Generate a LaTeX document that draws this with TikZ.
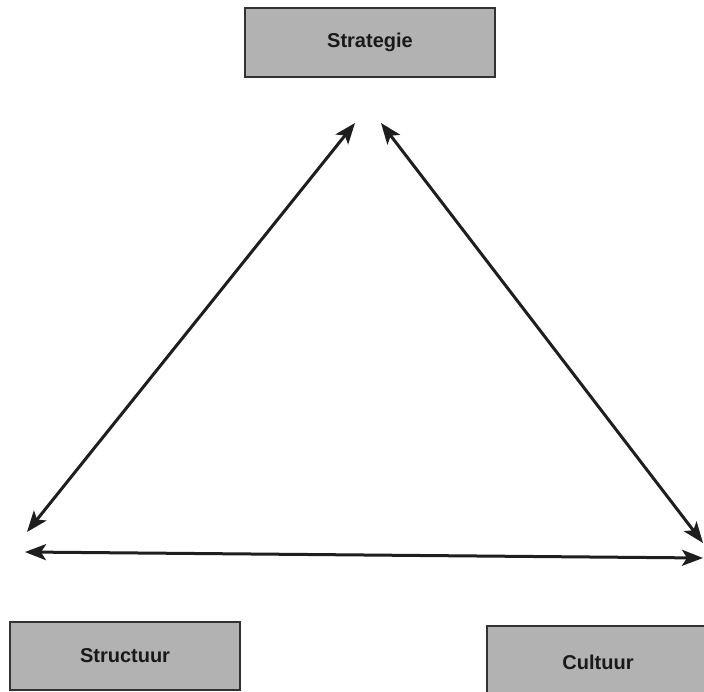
\documentclass[tikz,border=0pt]{standalone}
\usepackage{fontspec}
\setmainfont{Liberation Sans}
\usetikzlibrary{arrows.meta}
\definecolor{boxfill}{RGB}{178,178,178}
\definecolor{boxline}{RGB}{50,50,50}
\definecolor{arrowcol}{RGB}{30,30,30}
\begin{document}
\begin{tikzpicture}[x=1pt,y=-1pt,
  factor/.style={draw=boxline, line width=2pt, fill=boxfill, inner sep=0pt,
    font=\bfseries\fontsize{20}{23}\selectfont, text=black!90},
  link/.style={arrowcol, line width=3pt,
    {Stealth[length=21pt,width=16pt,inset=5pt]}-{Stealth[length=21pt,width=16pt,inset=5pt]}}]
\clip (0,0) rectangle (704,692);
\useasboundingbox (0,0) rectangle (704,692);
\fill[white] (0,0) rectangle (704,692);
\node[factor, minimum width=250pt, minimum height=69pt] (strat) at (370,42.5) {Strategie};
\node[factor, minimum width=230pt, minimum height=68pt] (struct) at (125,656) {Structuur};
\node[factor, minimum width=222pt, minimum height=72pt] (cult) at (598,662) {Cultuur};
\coordinate (topL) at (355,123);
\coordinate (topR) at (381,123);
\coordinate (botL) at (27,532);
\coordinate (botR) at (703,543);
\coordinate (horL) at (25,552);
\coordinate (horR) at (703,558);
\draw[link] (topL) -- (botL);
\draw[link] (topR) -- (botR);
\draw[link] (horL) -- (horR);
\end{tikzpicture}
\end{document}
